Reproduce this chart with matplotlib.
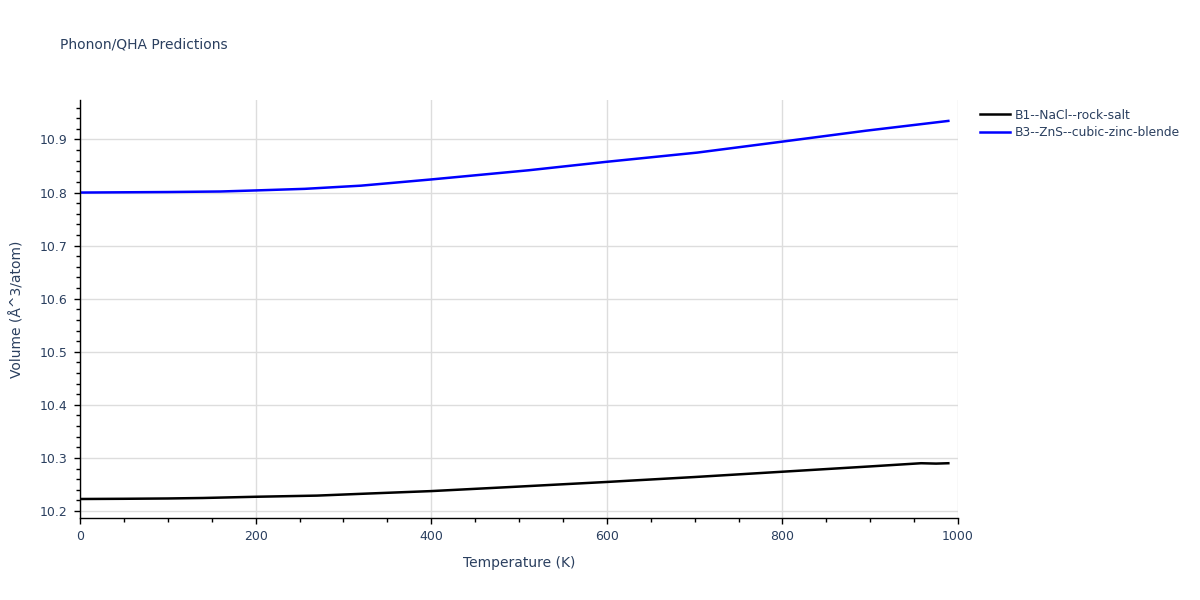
import numpy as np
import matplotlib.pyplot as plt
from matplotlib.ticker import MultipleLocator

plt.rcParams['font.family'] = ['DejaVu Sans']

# temperatures (K) and volumes (A^3/atom)
temp_b1 = [0, 50, 100, 140, 200, 270, 330, 400, 500, 600, 700, 800, 900, 958, 975, 989]
vol_b1 = [10.2226, 10.2230, 10.2236, 10.2245, 10.2268, 10.2290, 10.2330, 10.2375,
          10.2460, 10.2547, 10.2640, 10.2740, 10.2840, 10.2900, 10.2893, 10.2900]

temp_b3 = [0, 50, 100, 160, 200, 256, 320, 400, 511, 600, 703, 800, 895, 989]
vol_b3 = [10.8000, 10.8005, 10.8010, 10.8020, 10.8040, 10.8070, 10.8130, 10.8247,
          10.8420, 10.8580, 10.8753, 10.8960, 10.9165, 10.9350]

names = ['B1--NaCl--rock-salt', 'B3--ZnS--cubic-zinc-blende']
colors = ['black', 'blue']

text_col = '#2a3f5f'
grid_col = '#dddddd'

fig = plt.figure(figsize=(12, 6), dpi=100)
ax = fig.add_axes([80 / 1200, 82 / 600, 878 / 1200, 418 / 600])

ax.plot(temp_b1, vol_b1, color=colors[0], lw=1.8, label=names[0])
ax.plot(temp_b3, vol_b3, color=colors[1], lw=1.8, label=names[1])

ax.set_xlim(0, 1000)
ax.set_ylim(10.1868, 10.9744)

ax.xaxis.set_major_locator(MultipleLocator(200))
ax.xaxis.set_minor_locator(MultipleLocator(50))
ax.yaxis.set_major_locator(MultipleLocator(0.1))
ax.yaxis.set_minor_locator(MultipleLocator(0.02))
ax.yaxis.set_major_formatter(plt.FuncFormatter(lambda v, p: f'{v:.1f}'))

ax.grid(True, which='major', color=grid_col, lw=1)
ax.set_axisbelow(True)

for s in ['top', 'right']:
    ax.spines[s].set_visible(False)
for s in ['left', 'bottom']:
    ax.spines[s].set_color('black')
    ax.spines[s].set_linewidth(1)

ax.tick_params(which='both', direction='out', color='black', width=1,
               labelsize=9, labelcolor=text_col)
ax.tick_params(which='major', length=4, pad=5)
ax.tick_params(which='minor', length=3)

ax.set_xlabel('Temperature (K)', fontsize=10, color=text_col, labelpad=9)
ax.set_ylabel('Volume (Å^3/atom)', fontsize=10, color=text_col, labelpad=11)

fig.text(60 / 1200, 1 - 45 / 600, 'Phonon/QHA Predictions', fontsize=10,
         color=text_col, va='center', ha='left')

leg = ax.legend(loc='upper left', bbox_to_anchor=(1.015, 1.0), frameon=False,
                fontsize=8.8, handlelength=2.5, handletextpad=0.4,
                labelspacing=0.35, borderaxespad=0.3)
for t in leg.get_texts():
    t.set_color(text_col)

fig.savefig('out.png', dpi=100)
